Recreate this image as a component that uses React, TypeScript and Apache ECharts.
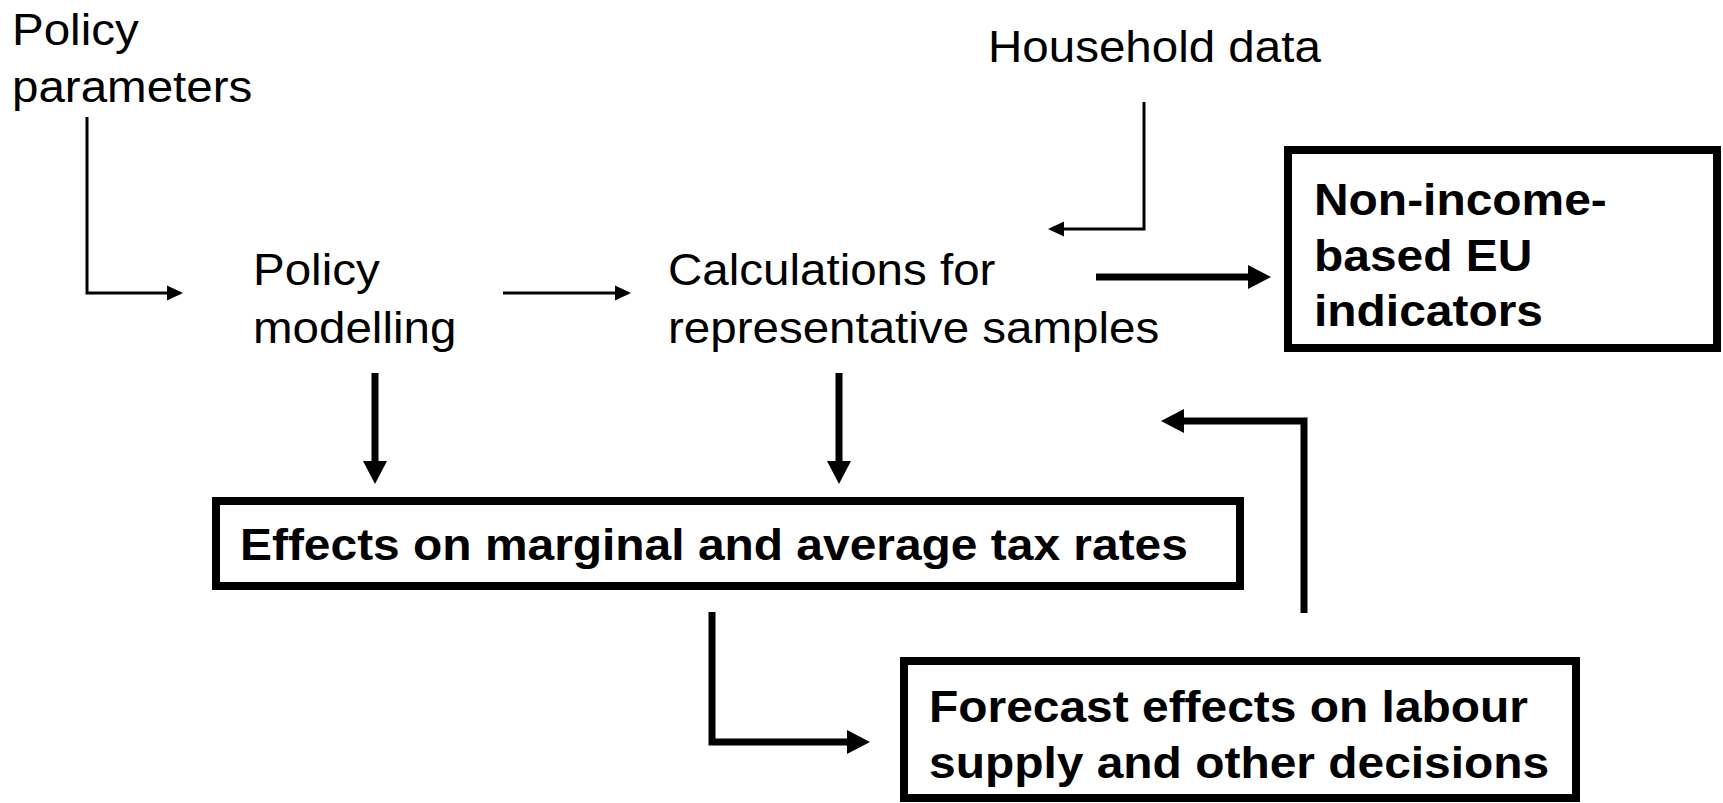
import React, { useEffect, useRef } from "react";
import * as echarts from "echarts";

// ---- Diagram content (texts) ----
const policyParamsLabel = ["Policy", "parameters"];
const policyModellingLabel = ["Policy", "modelling"];
const calculationsLabel = ["Calculations for", "representative samples"];
const householdLabel = ["Household data"];
const indicatorsLabel = ["Non-income-", "based EU", "indicators"];
const taxRatesLabel = ["Effects on marginal and average tax rates"];
const forecastLabel = ["Forecast effects on labour", "supply and other decisions"];

// ---- Layout (pixels) ----
const FONT = '"Liberation Sans", Arial, Helvetica, sans-serif';
const REG_SIZE = 44;
const BOLD_SIZE = 45;
const REG_SCALE_X = 1.08;
const BOLD_SCALE_X = 1.065;

type Block = { lines: string[]; x: number; baselines: number[]; bold: boolean };
const textBlocks: Block[] = [
  { lines: policyParamsLabel, x: 12, baselines: [45, 102], bold: false },
  { lines: policyModellingLabel, x: 253, baselines: [285, 343], bold: false },
  { lines: calculationsLabel, x: 668, baselines: [285, 343], bold: false },
  { lines: householdLabel, x: 988, baselines: [62], bold: false },
  { lines: indicatorsLabel, x: 1314, baselines: [215, 271, 326], bold: true },
  { lines: taxRatesLabel, x: 240, baselines: [560], bold: true },
  { lines: forecastLabel, x: 929, baselines: [722, 778], bold: true },
];

// outer extents [x0, y0, x1, y1]
const boxes: number[][] = [
  [1284, 146, 1721, 352],
  [212, 497, 1244, 590],
  [900, 657, 1580, 802],
];
const BOX_BORDER = 8;

const thinArrows: number[][][] = [
  [[87, 117], [87, 293], [183, 293]],
  [[503, 293], [631, 293]],
  [[1144, 102], [1144, 229], [1048, 229]],
];
const thickArrows: number[][][] = [
  [[1096, 277], [1271, 277]],
  [[375, 373], [375, 484]],
  [[839, 373], [839, 484]],
  [[1304, 613], [1304, 421], [1161, 421]],
  [[712, 612], [712, 742], [870, 742]],
];

function arrowElements(points: number[][], lw: number, headLen: number, headHalf: number) {
  const n = points.length;
  const [tx, ty] = points[n - 1];
  const [px, py] = points[n - 2];
  const dx = tx - px;
  const dy = ty - py;
  const len = Math.hypot(dx, dy);
  const ux = dx / len;
  const uy = dy / len;
  const bx = tx - ux * headLen;
  const by = ty - uy * headLen;
  const shaft = points.slice(0, n - 1).concat([[bx + ux * 2, by + uy * 2]]);
  return [
    {
      type: "polyline",
      shape: { points: shaft },
      style: { stroke: "#000", lineWidth: lw, fill: null, lineJoin: "miter", lineCap: "butt" },
      silent: true,
    },
    {
      type: "polygon",
      shape: {
        points: [
          [tx, ty],
          [bx - uy * headHalf, by + ux * headHalf],
          [bx + uy * headHalf, by - ux * headHalf],
        ],
      },
      style: { fill: "#000", stroke: null },
      silent: true,
    },
  ];
}

function buildElements() {
  const els: any[] = [];
  boxes.forEach(([x0, y0, x1, y1]) => {
    els.push({
      type: "rect",
      shape: {
        x: x0 + BOX_BORDER / 2,
        y: y0 + BOX_BORDER / 2,
        width: x1 - x0 - BOX_BORDER,
        height: y1 - y0 - BOX_BORDER,
      },
      style: { fill: "#fff", stroke: "#000", lineWidth: BOX_BORDER },
      silent: true,
    });
  });
  thinArrows.forEach((p) => els.push(...arrowElements(p, 3, 16, 7.5)));
  thickArrows.forEach((p) => els.push(...arrowElements(p, 7, 23, 12)));
  textBlocks.forEach((b) => {
    const fs = b.bold ? BOLD_SIZE : REG_SIZE;
    b.lines.forEach((line, i) => {
      els.push({
        type: "text",
        x: b.x,
        y: b.baselines[i] - 0.3465 * fs,
        scaleX: b.bold ? BOLD_SCALE_X : REG_SCALE_X,
        silent: true,
        style: {
          text: line,
          x: 0,
          y: 0,
          fill: "#000",
          fontFamily: FONT,
          fontSize: fs,
          fontWeight: b.bold ? "bold" : "normal",
          textAlign: "left",
          textVerticalAlign: "middle",
        },
      });
    });
  });
  return els;
}

export default function App() {
  const ref = useRef<HTMLDivElement>(null);
  useEffect(() => {
    if (!ref.current) return;
    const chart = echarts.init(ref.current, undefined, { renderer: "svg" });
    chart.setOption({
      animation: false,
      backgroundColor: "#ffffff",
      graphic: { elements: buildElements() },
    });
    return () => chart.dispose();
  }, []);
  return (
    <div
      ref={ref}
      style={{ position: "absolute", left: 0, top: 0, width: 1723, height: 803, background: "#fff" }}
    />
  );
}
